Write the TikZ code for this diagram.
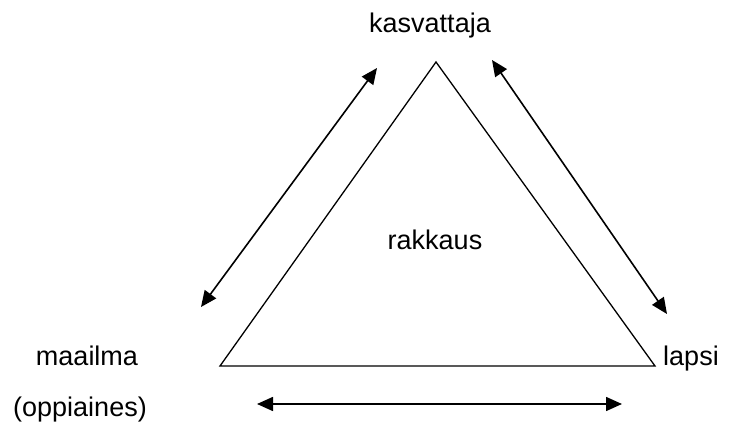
\documentclass[tikz,border=0pt]{standalone}
\usepackage{fontspec}
\setmainfont{Liberation Sans}
\usetikzlibrary{arrows.meta}
\tikzset{
  rklabel/.style={font=\fontsize{27}{34}\selectfont, inner sep=0pt, anchor=base},
  rkedge/.style={line width=1.3pt, line join=miter},
  rkarrow/.style={{Triangle[length=16pt,width=14pt]}-{Triangle[length=16pt,width=14pt]}, line width=1.6pt}
}

\begin{document}
\begin{tikzpicture}[x=1pt, y=-1pt]
\useasboundingbox (0,0) rectangle (745,425);
% corners of the triangle
\coordinate (top) at (436,62);
\coordinate (left) at (220,366);
\coordinate (right) at (655,366);
\draw[rkedge] (top) -- (left) -- (right) -- cycle;
% labels
\node[rklabel] (kasv) at (430,33) {kasvattaja};
\node[rklabel] (rakk) at (435,249) {rakkaus};
\node[rklabel] (maail) at (87,365) {maailma};
\node[rklabel] (oppi) at (80,416) {(oppiaines)};
\node[rklabel] (lapsi) at (691,365) {lapsi};
% double arrows beside each side
\coordinate (la1) at (377,68);
\coordinate (la2) at (201,307);
\coordinate (ra1) at (492,60);
\coordinate (ra2) at (667,314);
\coordinate (ba1) at (257,404);
\coordinate (ba2) at (622,404);
\draw[rkarrow] (la1) -- (la2);
\draw[rkarrow] (ra1) -- (ra2);
\draw[rkarrow] (ba1) -- (ba2);
\end{tikzpicture}
\end{document}
